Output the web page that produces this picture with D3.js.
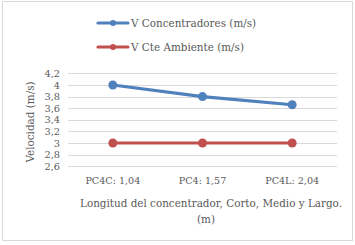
<!DOCTYPE html>
<html>
<head>
<meta charset="utf-8">
<script src="https://cdn.jsdelivr.net/npm/d3@7"></script>
<style>
  body { margin: 0; background: #fff; }
  text { font-family: "DejaVu Serif", serif; fill: #595959; }
</style>
</head>
<body>
<div id="chart"></div>
<script>
// Dades
const categories = ["PC4C: 1,04", "PC4: 1,57", "PC4L: 2,04"];
const vConcentradores = [4.0, 3.8, 3.66];
const vAmbient = [3.0, 3.0, 3.0];
const yTicks = [2.6, 2.8, 3.0, 3.2, 3.4, 3.6, 3.8, 4.0, 4.2];
const seriesNames = ["V Concentradores (m/s)", "V Cte Ambiente (m/s)"];

const series = [
    { name: seriesNames[0], values: vConcentradores, color: "#4F81BD" },
    { name: seriesNames[1], values: vAmbient, color: "#C0504D" }
];

const W = 355, H = 245;
const svg = d3.select("#chart").append("svg")
    .attr("width", W)
    .attr("height", H);

// Marc
svg.append("rect")
    .attr("x", 2.5).attr("y", 1.5)
    .attr("width", 350).attr("height", 239)
    .attr("fill", "#fff")
    .attr("stroke", "#D9D9D9");

// Escales
const x = d3.scaleBand()
    .domain(categories)
    .range([68, 337]);

const y = d3.scaleLinear()
    .domain([2.6, 4.2])
    .range([166.2, 73.4]);

const fmt = d => d3.format(".1f")(d).replace(".", ",").replace(",0", "");

// Graella
svg.append("g")
    .selectAll("line")
    .data(yTicks)
    .enter()
    .append("line")
        .attr("x1", 68).attr("x2", 337)
        .attr("y1", d => Math.round(y(d)) + 0.5)
        .attr("y2", d => Math.round(y(d)) + 0.5)
        .attr("stroke", "#D9D9D9")
        .attr("stroke-width", 1);

// Eix Y
const yAxis = svg.append("g")
    .attr("transform", "translate(60,0)")
    .call(d3.axisLeft(y).tickValues(yTicks).tickSize(0).tickPadding(0).tickFormat(fmt));
yAxis.select(".domain").remove();
yAxis.selectAll("text")
    .style("font-size", "9.8px")
    .style("font-family", "DejaVu Serif")
    .attr("fill", "#595959");

// Eix X
const xAxis = svg.append("g")
    .attr("transform", "translate(0,177)")
    .call(d3.axisBottom(x).tickSize(0).tickPadding(0));
xAxis.select(".domain").remove();
xAxis.selectAll("text")
    .style("font-size", "9.6px")
    .style("font-family", "DejaVu Serif")
    .attr("fill", "#595959");

// Títols d'eixos
svg.append("text")
    .attr("transform", "translate(34,122) rotate(-90)")
    .attr("text-anchor", "middle")
    .style("font-size", "10.4px")
    .text("Velocidad (m/s)");

svg.append("text")
    .attr("x", 211).attr("y", 207)
    .attr("text-anchor", "middle")
    .style("font-size", "10.4px")
    .text("Longitud del concentrador, Corto, Medio y Largo.");

svg.append("text")
    .attr("x", 206).attr("y", 223)
    .attr("text-anchor", "middle")
    .style("font-size", "10.4px")
    .text("(m)");

// Línies
const line = d3.line()
    .x((d, i) => x(categories[i]) + x.bandwidth() / 2)
    .y(d => y(d));

series.forEach(s => {
    svg.append("path")
        .datum(s.values)
        .attr("d", line)
        .attr("fill", "none")
        .attr("stroke", s.color)
        .attr("stroke-width", 3.2)
        .attr("stroke-linecap", "round");

    svg.selectAll(null)
        .data(s.values)
        .enter()
        .append("circle")
            .attr("cx", (d, i) => x(categories[i]) + x.bandwidth() / 2)
            .attr("cy", d => y(d))
            .attr("r", 4.5)
            .attr("fill", s.color);
});

// Llegenda
const legend = svg.append("g");
series.forEach((s, i) => {
    const ly = 23 + i * 24;
    legend.append("line")
        .attr("x1", 98).attr("x2", 128)
        .attr("y1", ly).attr("y2", ly)
        .attr("stroke", s.color)
        .attr("stroke-width", 3.2)
        .attr("stroke-linecap", "round");
    legend.append("circle")
        .attr("cx", 113).attr("cy", ly)
        .attr("r", 3)
        .attr("fill", s.color);
    legend.append("text")
        .attr("x", 131).attr("y", ly)
        .attr("dy", "0.35em")
        .style("font-size", "10.4px")
        .text(s.name);
});
</script>
</body>
</html>
